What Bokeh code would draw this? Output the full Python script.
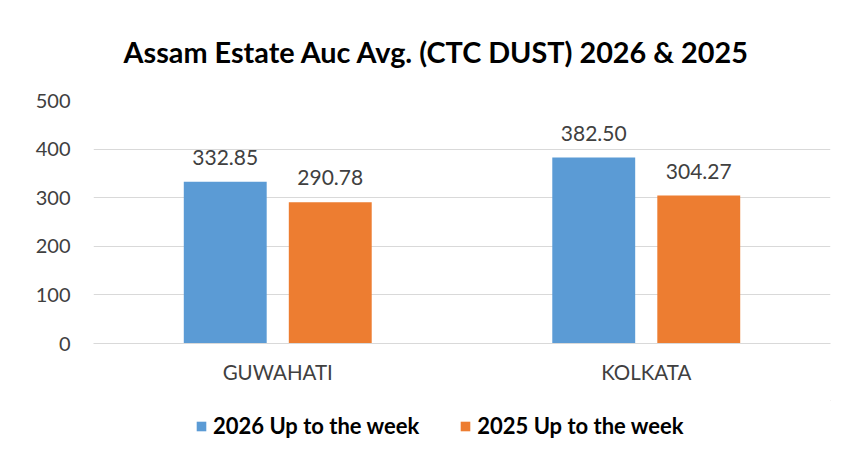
from bokeh.plotting import figure
from bokeh.models import ColumnDataSource, Legend, LegendItem, FactorRange, Range1d, LabelSet
from bokeh.core.properties import value
from bokeh.transform import dodge
from bokeh.layouts import column
from bokeh.embed import file_html
from bokeh.resources import INLINE

cities = ["GUWAHATI", "KOLKATA"]
series_names = ["2026 Up to the week", "2025 Up to the week"]
vals_2026 = [332.85, 382.50]
vals_2025 = [290.78, 304.27]
y_ticks = [0, 100, 200, 300, 400, 500]
title_text = "Assam Estate Auc Avg. (CTC DUST) 2026 & 2025"

FONT = "Lato"
BLUE = "#5b9bd5"
ORANGE = "#ed7d31"
W = 845

src = ColumnDataSource(dict(
    city=cities,
    v26=vals_2026,
    v25=vals_2025,
    t26=[f"{v:.2f}" for v in vals_2026],
    t25=[f"{v:.2f}" for v in vals_2025],
))

p = figure(width=W, height=400, x_range=FactorRange(*cities, range_padding=0),
           y_range=Range1d(0, 500), output_backend="svg", toolbar_location=None,
           title=title_text,
           min_border_left=93, min_border_right=W - 830, min_border_top=100, min_border_bottom=57)
p.outline_line_color = None
p.background_fill_color = "white"
p.border_fill_color = "white"

p.title.align = "left"
p.title.offset = 30
p.title.standoff = 64
p.title.text_font = FONT
p.title.text_font_style = "bold"
p.title.text_font_size = "28.8px"
p.title.text_color = "#000000"

off = 0.1425
w = 0.225
r1 = p.vbar(x=dodge("city", -off, range=p.x_range), top="v26", width=w, source=src,
            fill_color=BLUE, line_color=None)
r2 = p.vbar(x=dodge("city", off, range=p.x_range), top="v25", width=w, source=src,
            fill_color=ORANGE, line_color=None)

for col, vcol, o in (("t26", "v26", -off), ("t25", "v25", off)):
    ls = LabelSet(x=dodge("city", o, range=p.x_range), y=vcol, text=col,
                  source=src, text_align="center", text_baseline="bottom", y_offset=17,
                  text_font=value(FONT), text_font_size="21px", text_color="#404040")
    p.add_layout(ls)

p.xgrid.grid_line_color = None
p.ygrid.grid_line_color = "#d9d9d9"
p.ygrid.grid_line_width = 1
p.yaxis.ticker = y_ticks
p.yaxis.axis_line_color = None
p.yaxis.major_tick_line_color = None
p.yaxis.minor_tick_line_color = None
p.yaxis.major_label_standoff = 17
p.yaxis.major_label_text_font = FONT
p.yaxis.major_label_text_font_size = "20px"
p.yaxis.major_label_text_color = "#404040"

p.xaxis.axis_line_color = "#d9d9d9"
p.xaxis.major_tick_line_color = None
p.xaxis.major_tick_out = 0
p.xaxis.major_label_standoff = 16
p.xaxis.major_label_text_font = FONT
p.xaxis.major_label_text_font_size = "20.5px"
p.xaxis.major_label_text_color = "#404040"

# legend strip (dummy renderers lie outside the visible range; only their legend swatches show)
p2 = figure(width=W, height=60, x_range=Range1d(0, 1), y_range=Range1d(0, 1),
            output_backend="svg", toolbar_location=None, min_border=0)
p2.axis.visible = False
p2.grid.grid_line_color = None
p2.outline_line_color = None
p2.border_fill_color = "white"
d1 = p2.vbar(x=[5], top=[5], bottom=[4], width=0.1, fill_color=BLUE, line_color=None)
d2 = p2.vbar(x=[5], top=[5], bottom=[4], width=0.1, fill_color=ORANGE, line_color=None)
legend = Legend(items=[LegendItem(label=series_names[0], renderers=[d1]),
                       LegendItem(label=series_names[1], renderers=[d2])],
                orientation="horizontal", location=(102, 21),
                label_text_font=FONT, label_text_font_style="bold", label_text_font_size="22px",
                label_text_color="#000000", glyph_width=12, glyph_height=12,
                spacing=40, label_standoff=6, border_line_color=None,
                background_fill_alpha=0, margin=0, padding=6)
p2.add_layout(legend)

layout = column(p, p2, spacing=0)
open("out.html", "w").write(file_html(layout, INLINE))
